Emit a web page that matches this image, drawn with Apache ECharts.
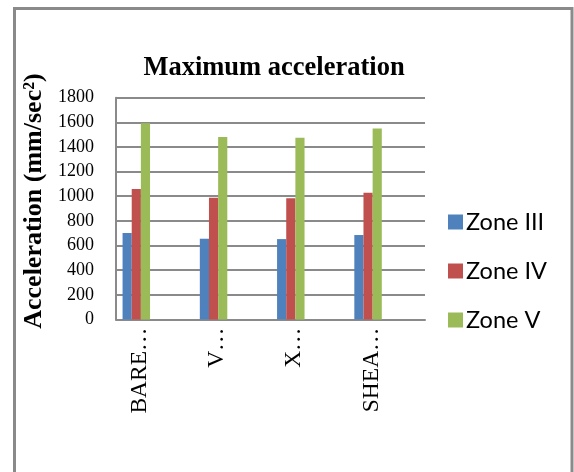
<!DOCTYPE html>
<html>
<head>
<meta charset="utf-8">
<script src="https://cdn.jsdelivr.net/npm/echarts@6/dist/echarts.min.js"></script>
<style>html,body{margin:0;padding:0;background:#fff}#c{width:574px;height:472px}</style>
</head>
<body>
<div id="c"></div>
<script>
var categories = ['BARE…', 'V…', 'X…', 'SHEA…'];
var zone3 = [701, 655, 652, 685];
var zone4 = [1058, 988, 983, 1029];
var zone5 = [1592, 1481, 1475, 1549];
var seriesNames = ['Zone III', 'Zone IV', 'Zone V'];
var colors = ['#4F81BD', '#C0504D', '#9BBB59'];

var chart = echarts.init(document.getElementById('c'), null, {renderer: 'canvas'});
var values = [zone3, zone4, zone5];
var series = seriesNames.map(function (n, i) {
  return {name: n, type: 'bar', data: values[i], barGap: '0%', barCategoryGap: '17%',
    itemStyle: {color: colors[i]}};
});
// empty series slots (as in the source chart, bars sit at the left of each category)
for (var k = 0; k < 4; k++) {
  series.push({name: 'empty' + k, type: 'bar', data: [], barGap: '0%', barCategoryGap: '17%'});
}
var serif = '"Liberation Serif", "Times New Roman", serif';
chart.setOption({
  animation: false,
  backgroundColor: '#fff',
  title: {text: 'Maximum acceleration', left: 269, textAlign: 'center', top: 50,
    textStyle: {fontFamily: serif, fontWeight: 'bold', fontSize: 26.5, color: '#000'}},
  graphic: [{type: 'rect', shape: {x: 14.5, y: 8.5, width: 557.5, height: 520},
    style: {fill: null, stroke: '#8a8a8a', lineWidth: 3}, silent: true}],
  legend: {orient: 'vertical', left: 443, top: 205, itemWidth: 15, itemHeight: 15, itemGap: 25,
    data: seriesNames, icon: 'rect',
    textStyle: {fontFamily: 'Lato, "Open Sans", sans-serif', fontSize: 23.5, color: '#000', padding: [0,0,0,-2]}},
  grid: {left: 116, right: 149, top: 97.7, bottom: 152.6, containLabel: false},
  xAxis: {type: 'category', data: categories,
    axisLine: {lineStyle: {color: '#8a8a8a', width: 2}},
    axisTick: {show: false},
    axisLabel: {rotate: 90, fontFamily: serif, fontSize: 23.5, color: '#000', margin: 8,
      verticalAlign: 'bottom', lineHeight: 30}},
  yAxis: {type: 'value', min: 0, max: 1800, interval: 200,
    name: 'Acceleration (mm/sec²)', nameLocation: 'middle', nameGap: 63,
    nameTextStyle: {fontFamily: serif, fontWeight: 'bold', fontSize: 26, color: '#000',
      padding: [0, 0, 0, 15]},
    axisLine: {show: true, lineStyle: {color: '#8a8a8a', width: 2}},
    axisTick: {show: false},
    splitLine: {lineStyle: {color: '#8a8a8a', width: 2}},
    axisLabel: {fontFamily: serif, fontSize: 18, color: '#000', margin: 22,
      formatter: function (v) { return String(v); }}},
  series: series
});
</script>
</body>
</html>
